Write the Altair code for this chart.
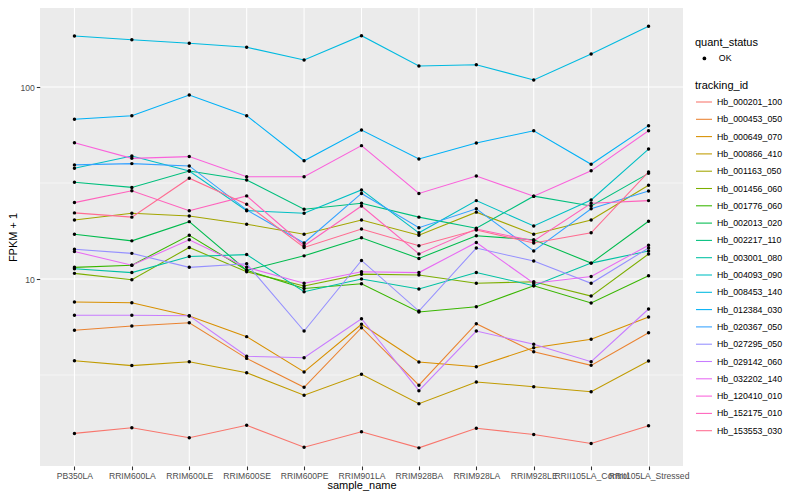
import altair as alt
import pandas as pd

samples = ["PB350LA", "RRIM600LA", "RRIM600LE", "RRIM600SE", "RRIM600PE", "RRIM901LA",
           "RRIM928BA", "RRIM928LA", "RRIM928LE", "RRII105LA_Control", "RRII105LA_Stressed"]

tracking_ids = ["Hb_000201_100", "Hb_000453_050", "Hb_000649_070", "Hb_000866_410",
                "Hb_001163_050", "Hb_001456_060", "Hb_001776_060", "Hb_002013_020",
                "Hb_002217_110", "Hb_003001_080", "Hb_004093_090", "Hb_008453_140",
                "Hb_012384_030", "Hb_020367_050", "Hb_027295_050", "Hb_029142_060",
                "Hb_032202_140", "Hb_120410_010", "Hb_152175_010", "Hb_153553_030"]

palette = ["#F8766D", "#EA8331", "#D89000", "#C09B00", "#A3A500", "#7CAE00", "#39B600",
           "#00BB4E", "#00BF7D", "#00C1A3", "#00BFC4", "#00BAE0", "#00B0F6", "#35A2FF",
           "#9590FF", "#C77CFF", "#E76BF3", "#FA62DB", "#FF62BC", "#FF6C91"]

# FPKM + 1 per sample (order of `samples`)
Hb_000201_100 = [1.57, 1.68, 1.49, 1.73, 1.33, 1.60, 1.32, 1.67, 1.55, 1.39, 1.72]
Hb_000453_050 = [5.41, 5.69, 5.92, 3.86, 2.73, 5.58, 2.80, 5.85, 4.18, 3.55, 5.25]
Hb_000649_070 = [7.59, 7.53, 6.42, 5.01, 3.28, 5.81, 3.70, 3.49, 4.39, 4.85, 6.34]
Hb_000866_410 = [3.75, 3.54, 3.71, 3.25, 2.48, 3.19, 2.24, 2.91, 2.75, 2.59, 3.74]
Hb_001163_050 = [20.3, 22.0, 21.3, 19.3, 17.1, 20.3, 16.9, 22.3, 17.1, 20.3, 30.8]
Hb_001456_060 = [10.7, 9.92, 14.6, 10.9, 9.19, 10.6, 10.5, 9.50, 9.68, 8.15, 13.5]
Hb_001776_060 = [11.5, 11.8, 16.9, 11.1, 8.92, 9.45, 6.73, 7.17, 9.23, 7.50, 10.4]
Hb_002013_020 = [17.1, 15.8, 19.9, 11.1, 13.2, 16.4, 12.8, 16.8, 16.0, 12.1, 20.0]
Hb_002217_110 = [31.9, 30.0, 36.5, 32.8, 23.1, 24.8, 21.0, 18.4, 27.0, 24.0, 35.5]
Hb_003001_080 = [11.3, 10.8, 13.1, 13.4, 8.59, 10.0, 8.87, 10.8, 9.23, 12.1, 14.0]
Hb_004093_090 = [37.7, 43.7, 36.5, 22.7, 22.0, 29.1, 17.4, 25.6, 18.9, 25.8, 47.5]
Hb_008453_140 = [184.3, 176.4, 168.9, 161.0, 138.2, 185.0, 128.7, 130.7, 108.8, 148.5, 207.1]
Hb_012384_030 = [67.9, 70.9, 90.9, 70.9, 41.3, 59.7, 42.2, 51.1, 59.2, 39.6, 62.9]
Hb_020367_050 = [39.3, 39.9, 38.8, 22.9, 15.4, 27.9, 18.5, 23.2, 14.0, 23.2, 28.7]
Hb_027295_050 = [14.3, 13.6, 11.5, 12.0, 5.36, 12.5, 6.81, 14.5, 12.4, 9.50, 14.5]
Hb_029142_060 = [6.47, 6.47, 6.44, 3.96, 3.89, 6.21, 2.62, 5.36, 4.57, 3.71, 6.98]
Hb_032202_140 = [13.9, 11.8, 16.0, 11.5, 9.50, 10.9, 10.8, 15.5, 9.50, 10.3, 15.0]
Hb_120410_010 = [51.3, 42.5, 43.4, 34.1, 34.1, 49.5, 27.9, 34.4, 27.0, 36.6, 59.2]
Hb_152175_010 = [25.0, 28.8, 22.7, 27.1, 14.9, 24.0, 13.5, 18.2, 15.8, 24.8, 25.6]
Hb_153553_030 = [22.1, 21.0, 33.5, 24.5, 14.6, 18.2, 14.9, 18.0, 15.4, 17.4, 36.1]

series = [Hb_000201_100, Hb_000453_050, Hb_000649_070, Hb_000866_410, Hb_001163_050,
          Hb_001456_060, Hb_001776_060, Hb_002013_020, Hb_002217_110, Hb_003001_080,
          Hb_004093_090, Hb_008453_140, Hb_012384_030, Hb_020367_050, Hb_027295_050,
          Hb_029142_060, Hb_032202_140, Hb_120410_010, Hb_152175_010, Hb_153553_030]

major_breaks = [10, 100]
minor_breaks = [3.1623, 31.623]

rows = []
for tid, vals in zip(tracking_ids, series):
    for s, v in zip(samples, vals):
        rows.append({"tracking_id": tid, "sample_name": s, "fpkm": v, "quant_status": "OK"})
df = pd.DataFrame(rows)

FONT = "Liberation Sans"

x_scale = alt.Scale(type="point", domain=samples, padding=0.6)
y_scale = alt.Scale(type="log", domain=[1.062, 257.9], nice=False, zero=False)

x_axis = alt.Axis(title="sample_name", grid=False, domain=False, labelAngle=0,
                  tickColor="#333333", tickSize=3.7, tickWidth=1.07,
                  labelColor="#4D4D4D", labelFontSize=8.6, labelFont=FONT, labelPadding=1.5,
                  labelOverlap=False, titleFont=FONT, titleFontSize=11,
                  titleFontWeight="normal", titleColor="#000000", titlePadding=0)
y_axis = alt.Axis(title="FPKM + 1", grid=False, domain=False, values=major_breaks,
                  format=".0f", tickColor="#333333", tickSize=3.7, tickWidth=1.07,
                  labelColor="#4D4D4D", labelFontSize=8.6, labelFont=FONT, labelPadding=2,
                  titleFont=FONT, titleFontSize=11, titleFontWeight="normal",
                  titleColor="#000000", titleX=-27, titleBaseline="middle")

X = alt.X("sample_name:N", scale=x_scale, axis=x_axis)
Y = alt.Y("fpkm:Q", scale=y_scale, axis=y_axis)

grid_x = alt.Chart(pd.DataFrame({"sample_name": samples})).mark_rule(
    color="white", strokeWidth=1.07).encode(x=X)
grid_y_major = alt.Chart(pd.DataFrame({"fpkm": major_breaks})).mark_rule(
    color="white", strokeWidth=1.07).encode(y=Y)
grid_y_minor = alt.Chart(pd.DataFrame({"fpkm": minor_breaks})).mark_rule(
    color="white", strokeWidth=0.53).encode(y=Y)

lines = alt.Chart(df).mark_line(strokeWidth=1.07).encode(
    x=X, y=Y,
    color=alt.Color("tracking_id:N",
                    scale=alt.Scale(domain=tracking_ids, range=palette),
                    legend=alt.Legend(title="tracking_id", orient="none",
                                      legendX=655, legendY=72,
                                      symbolType="stroke", symbolSize=256,
                                      symbolStrokeWidth=1.07,
                                      labelFont=FONT, labelFontSize=8.8, labelColor="#000000",
                                      titleFont=FONT, titleFontSize=11,
                                      titleFontWeight="normal", titleColor="#000000",
                                      rowPadding=3.3, titlePadding=2, labelOffset=4)),
    detail="tracking_id:N",
)

points = alt.Chart(df).mark_point(filled=True, size=12, color="#000000", opacity=1).encode(
    x=X, y=Y,
    shape=alt.Shape("quant_status:N", scale=alt.Scale(domain=["OK"], range=["circle"]),
                    legend=alt.Legend(title="quant_status", orient="none",
                                      legendX=655, legendY=29, symbolSize=14,
                                      symbolFillColor="#000000", symbolStrokeColor="#000000",
                                      symbolOffset=5,
                                      labelFont=FONT, labelFontSize=8.8, labelColor="#000000",
                                      titleFont=FONT, titleFontSize=11,
                                      titleFontWeight="normal", titleColor="#000000",
                                      titlePadding=6, labelOffset=10)),
)

chart = alt.layer(grid_y_minor, grid_y_major, grid_x, lines, points).properties(
    width=643, height=458,
    autosize=alt.AutoSizeParams(type="none"),
    padding={"left": 32, "top": 0, "right": 109, "bottom": 26},
    background="white",
).configure_view(fill="#EBEBEB", stroke=None)

chart.save("out.html", embed_options={"renderer": "svg", "actions": False})
